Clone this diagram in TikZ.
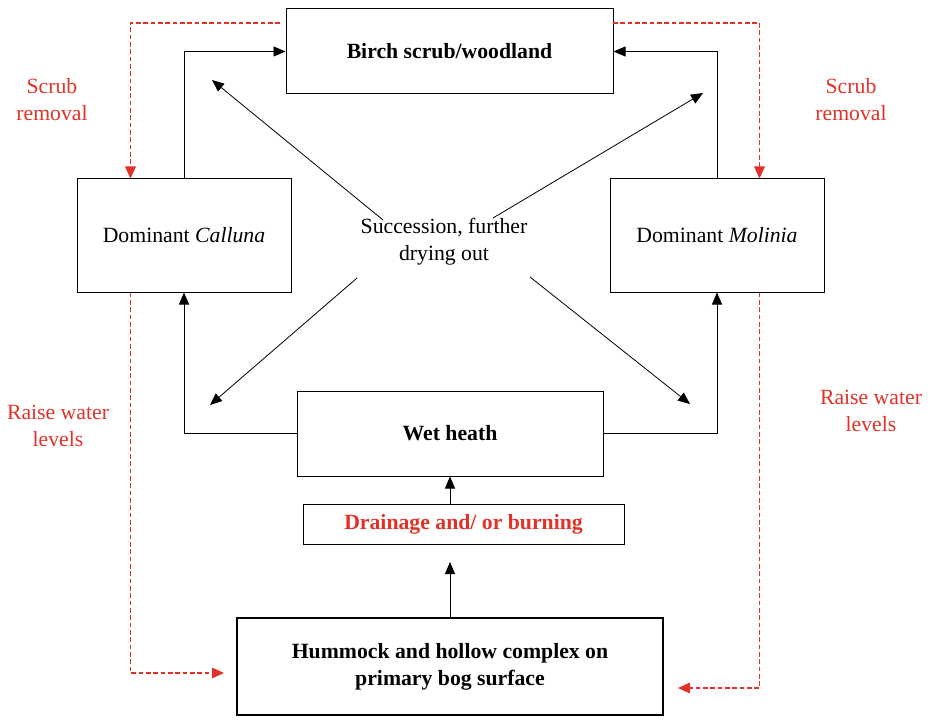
\documentclass[tikz,border=0pt]{standalone}
\usepackage{fontspec}
\setmainfont{Liberation Serif}
\usetikzlibrary{arrows.meta,calc}
\definecolor{mgtred}{RGB}{226,50,40}
\begin{document}
\begin{tikzpicture}[x=0.75pt,y=-0.75pt,
  every node/.style={font=\fontsize{16.3}{20.3}\selectfont},
  box/.style={draw=black,line width=0.75pt,inner sep=0pt,align=center},
  arr/.style={line width=0.6pt,-{Triangle[length=9pt,width=7.5pt]}},
  redarr/.style={draw=mgtred,line width=0.9pt,dash pattern=on 3.5pt off 2pt,
    -{Triangle[length=9pt,width=8pt,fill=mgtred]}},
  redtext/.style={text=mgtred,align=center}]
\useasboundingbox (0,0) rectangle (930,720);

% habitat boxes
\node[box,minimum width=245.25pt,minimum height=63.75pt] (birch) at (449.5,51.5) {\textbf{Birch scrub/woodland}};
\node[box,minimum width=160.5pt,minimum height=84.75pt] (cal) at (184,235.5) {Dominant \textit{Calluna}};
\node[box,minimum width=160.5pt,minimum height=84.75pt] (mol) at (717,235.5) {Dominant \textit{Molinia}};
\node[box,minimum width=229.5pt,minimum height=63.75pt] (wet) at (450,433.5) {\textbf{Wet heath}};
\node[box,minimum width=240.75pt,minimum height=30pt,text=mgtred] (drain) at (463.5,524) {\textbf{Drainage and/ or burning}};
\node[box,line width=2.2pt,minimum width=319.5pt,minimum height=72.75pt] (hum) at (450,666.5)
  {\textbf{Hummock and hollow complex on}\\\textbf{primary bog surface}};

% central label
\node[align=center] (succ) at (444,242) {Succession, further\\drying out};

% management labels
\node[redtext] (scrubL) at (52,100) {Scrub\\removal};
\node[redtext] (scrubR) at (851,100) {Scrub\\removal};
\node[redtext] (raiseL) at (58,426) {Raise water\\levels};
\node[redtext] (raiseR) at (871,411) {Raise water\\levels};

% succession connectors
\draw[arr] (cal.north) |- (birch.west);
\draw[arr] (mol.north) |- (birch.east);
\draw[arr] (wet.west) -| (cal.south);
\draw[arr] (wet.east) -| (mol.south);
\draw[arr] (drain.north -| wet.south) -- (wet.south);
\coordinate (humtip) at (450,562);
\draw[arr] (hum.north) -- (humtip);

% diagonal arrows out of the central label
\coordinate (dTLs) at (383,220); \coordinate (dTLe) at (212,80);
\coordinate (dTRs) at (493,218); \coordinate (dTRe) at (703,93);
\coordinate (dBLs) at (357,278); \coordinate (dBLe) at (210,405);
\coordinate (dBRs) at (530,277); \coordinate (dBRe) at (690,404);
\draw[arr] (dTLs) -- (dTLe);
\draw[arr] (dTRs) -- (dTRe);
\draw[arr] (dBLs) -- (dBLe);
\draw[arr] (dBRs) -- (dBRe);

% management interventions (dashed)
\coordinate (sL) at (280,23);
\coordinate (sR) at (613,23);
\draw[redarr] (sL) -| ($(cal.north west)+(54,0)$);
\draw[redarr] (sR) -| ($(mol.north east)+(-65,0)$);
\coordinate (hL) at (224,673);
\coordinate (hR) at (678,688);
\draw[redarr] ($(cal.south west)+(54,0)$) |- (hL);
\draw[redarr] ($(mol.south east)+(-65,0)$) |- (hR);
\end{tikzpicture}
\end{document}
